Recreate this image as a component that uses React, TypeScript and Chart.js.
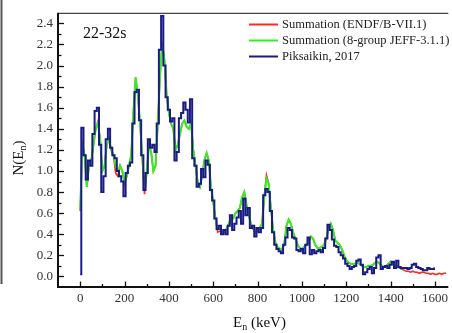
import React, { useEffect, useRef } from "react";
import { Chart, registerables } from "chart.js";

Chart.register(...registerables);

// Energy grid: first energy and spacing (keV) of the tabulated spectra
const X_START = 0;
const X_STEP = 10;

// Piksaikin, 2017 (0 .. 1600 keV)
const blueValues = [
  0.02, 1.41, 1.15, 0.92, 1.10, 1.05, 1.35, 1.57, 1.60, 1.25,
  0.80, 0.95, 1.30, 1.40, 1.22, 1.15, 1.12, 1.00, 0.95, 0.90,
  0.76, 0.98, 1.05, 1.08, 1.45, 1.75, 1.77, 1.48, 1.15, 0.82,
  0.98, 1.30, 1.22, 1.25, 1.18, 1.45, 2.15, 2.47, 2.00, 1.70,
  1.58, 1.47, 1.50, 1.10, 1.18, 1.50, 1.55, 1.65, 1.58, 1.46,
  1.68, 1.12, 1.05, 0.85, 0.88, 1.02, 0.94, 1.10, 1.06, 0.82,
  0.72, 0.55, 0.45, 0.48, 0.40, 0.44, 0.40, 0.48, 0.58, 0.44,
  0.50, 0.56, 0.62, 0.50, 0.74, 0.58, 0.65, 0.46, 0.48, 0.38,
  0.46, 0.42, 0.46, 0.77, 0.83, 0.80, 0.62, 0.42, 0.30, 0.26,
  0.24, 0.22, 0.30, 0.37, 0.46, 0.44, 0.37, 0.36, 0.25, 0.24,
  0.26, 0.22, 0.30, 0.37, 0.21, 0.25, 0.22, 0.24, 0.25, 0.23,
  0.27, 0.36, 0.49, 0.44, 0.35, 0.29, 0.28, 0.23, 0.20, 0.17,
  0.12, 0.10, 0.07, 0.09, 0.10, 0.15, 0.16, 0.11, 0.02, 0.04,
  0.07, 0.09, 0.03, 0.08, 0.18, 0.20, 0.07, 0.09, 0.10, 0.08,
  0.11, 0.14, 0.08, 0.15, 0.09, 0.08, 0.08, 0.08, 0.07, 0.08,
  0.11, 0.12, 0.09, 0.08, 0.07, 0.06, 0.06, 0.08, 0.07, 0.07,
  0.075,
];

// Summation (8-group JEFF-3.1.1) (0 .. 1450 keV)
const greenValues = [
  0.63, 1.25, 1.15, 0.85, 1.05, 1.10, 1.25, 1.40, 1.45, 1.30,
  1.00, 1.05, 1.25, 1.30, 1.20, 1.15, 1.05, 1.00, 1.05, 1.00,
  0.90, 0.95, 1.05, 1.15, 1.55, 1.89, 1.72, 1.45, 1.15, 0.82,
  1.00, 1.25, 1.18, 1.00, 1.05, 1.45, 1.90, 2.22, 2.05, 1.72,
  1.55, 1.45, 1.40, 1.20, 1.25, 1.35, 1.45, 1.48, 1.42, 1.40,
  1.45, 1.20, 1.05, 0.90, 0.85, 0.95, 1.10, 1.17, 1.10, 0.85,
  0.70, 0.55, 0.45, 0.45, 0.42, 0.42, 0.45, 0.50, 0.55, 0.55,
  0.60, 0.62, 0.65, 0.75, 0.80, 0.68, 0.58, 0.50, 0.45, 0.42,
  0.44, 0.46, 0.50, 0.75, 0.93, 0.88, 0.65, 0.45, 0.32, 0.28,
  0.26, 0.26, 0.30, 0.48, 0.54, 0.50, 0.42, 0.36, 0.30, 0.27,
  0.26, 0.28, 0.30, 0.33, 0.38, 0.36, 0.30, 0.27, 0.27, 0.28,
  0.30, 0.36, 0.45, 0.50, 0.44, 0.34, 0.32, 0.30, 0.26, 0.20,
  0.15, 0.13, 0.12, 0.12, 0.12, 0.13, 0.12, 0.10, 0.09, 0.09,
  0.10, 0.10, 0.11, 0.13, 0.14, 0.12, 0.10, 0.09, 0.10, 0.12,
  0.14, 0.12, 0.10, 0.10, 0.08, 0.07,
];

// Summation (ENDF/B-VII.1) (0 .. 1650 keV)
const redValues = [
  0.62, 1.25, 1.15, 0.85, 1.05, 1.10, 1.25, 1.40, 1.47, 1.30,
  1.00, 1.05, 1.25, 1.30, 1.20, 1.15, 0.98, 0.95, 1.05, 1.00,
  0.88, 0.95, 1.05, 1.15, 1.55, 1.88, 1.72, 1.45, 1.12, 0.78,
  0.97, 1.25, 1.18, 1.00, 1.05, 1.45, 1.90, 2.22, 2.05, 1.72,
  1.55, 1.45, 1.40, 1.20, 1.25, 1.35, 1.45, 1.48, 1.42, 1.40,
  1.45, 1.20, 1.05, 0.90, 0.85, 0.95, 1.10, 1.17, 1.10, 0.85,
  0.70, 0.55, 0.42, 0.43, 0.42, 0.42, 0.45, 0.50, 0.55, 0.55,
  0.60, 0.62, 0.65, 0.75, 0.80, 0.68, 0.58, 0.50, 0.45, 0.42,
  0.44, 0.46, 0.50, 0.75, 0.96, 0.88, 0.65, 0.45, 0.32, 0.28,
  0.26, 0.26, 0.30, 0.48, 0.54, 0.50, 0.42, 0.36, 0.30, 0.27,
  0.26, 0.28, 0.30, 0.33, 0.38, 0.36, 0.30, 0.27, 0.27, 0.28,
  0.30, 0.36, 0.45, 0.50, 0.44, 0.34, 0.32, 0.30, 0.26, 0.20,
  0.15, 0.13, 0.12, 0.12, 0.12, 0.13, 0.12, 0.10, 0.09, 0.09,
  0.10, 0.10, 0.11, 0.13, 0.14, 0.12, 0.10, 0.09, 0.10, 0.12,
  0.14, 0.12, 0.10, 0.10, 0.08, 0.07, 0.06, 0.05, 0.05, 0.04,
  0.05, 0.04, 0.04, 0.03, 0.04, 0.04, 0.03, 0.03, 0.02, 0.03,
  0.02, 0.02, 0.03, 0.02, 0.03, 0.03,
];

const xTickValues = [0, 200, 400, 600, 800, 1000, 1200, 1400, 1600];
const xMinorValues = [100, 300, 500, 700, 900, 1100, 1300, 1500];
const yTickValues = [0, 0.2, 0.4, 0.6, 0.8, 1.0, 1.2, 1.4, 1.6, 1.8, 2.0, 2.2, 2.4];
const yMinorValues = [0.1, 0.3, 0.5, 0.7, 0.9, 1.1, 1.3, 1.5, 1.7, 1.9, 2.1, 2.3];

const seriesLabels = [
  "Summation (ENDF/B-VII.1)",
  "Summation (8-group JEFF-3.1.1)",
  "Piksaikin, 2017",
];
const seriesColors = ["#ff2a1f", "#33ee22", "#1b1b86"];
const panelLabel = "22-32s";

const SERIF = '"Liberation Serif", "Times New Roman", serif';

function toPoints(vals: number[]) {
  return vals.map((y, i) => ({ x: X_START + i * X_STEP, y }));
}

const decorPlugin = {
  id: "decor",
  afterDraw(chart: any) {
    const { ctx, chartArea: a, scales } = chart;
    const xs = scales.x;
    const ys = scales.y;
    ctx.save();
    const line = (x1: number, y1: number, x2: number, y2: number) => {
      ctx.beginPath();
      ctx.moveTo(x1, y1);
      ctx.lineTo(x2, y2);
      ctx.stroke();
    };
    // cropped neighbour frame at the far left
    ctx.strokeStyle = "#555";
    ctx.lineWidth = 2;
    line(1.5, 0, 1.5, 284);
    // top frame line
    ctx.strokeStyle = "#444";
    ctx.lineWidth = 1.2;
    line(a.left, a.top + 0.5, a.right, a.top + 0.5);
    // axes
    ctx.strokeStyle = "#111";
    ctx.lineWidth = 2;
    line(a.left, a.top, a.left, a.bottom + 1);
    line(a.left - 1, a.bottom, a.right, a.bottom);
    // ticks (inward)
    ctx.lineWidth = 1.3;
    for (const v of yTickValues) {
      const p = Math.round(ys.getPixelForValue(v)) + 0.5;
      line(a.left, p, a.left + 6, p);
    }
    for (const v of yMinorValues) {
      const p = Math.round(ys.getPixelForValue(v)) + 0.5;
      line(a.left, p, a.left + 3.5, p);
    }
    for (const v of xTickValues) {
      const p = Math.round(xs.getPixelForValue(v)) + 0.5;
      line(p, a.bottom, p, a.bottom - 5.5);
    }
    for (const v of xMinorValues) {
      const p = Math.round(xs.getPixelForValue(v)) + 0.5;
      line(p, a.bottom, p, a.bottom - 3);
    }
    // panel label
    ctx.fillStyle = "#111";
    ctx.textBaseline = "middle";
    ctx.textAlign = "left";
    ctx.font = `16px ${SERIF}`;
    ctx.fillText(panelLabel, 83, 34);
    // legend
    ctx.font = `12.5px ${SERIF}`;
    seriesLabels.forEach((lab, i) => {
      const yy = 24.5 + 16 * i;
      ctx.strokeStyle = seriesColors[i];
      ctx.lineWidth = 2;
      line(249, yy, 278, yy);
      ctx.fillStyle = "#222";
      ctx.fillText(lab, 282, yy + 0.5);
    });
    // x title: E_n (keV)
    ctx.fillStyle = "#111";
    ctx.textBaseline = "alphabetic";
    ctx.font = `15px ${SERIF}`;
    let cx = 233;
    ctx.fillText("E", cx, 327);
    cx += ctx.measureText("E").width;
    ctx.font = `10px ${SERIF}`;
    ctx.fillText("n", cx, 330);
    cx += ctx.measureText("n").width;
    ctx.font = `15px ${SERIF}`;
    ctx.fillText(" (keV)", cx, 327);
    // y title: N(E_n)
    ctx.translate(18, 158);
    ctx.rotate(-Math.PI / 2);
    ctx.font = `15px ${SERIF}`;
    const w1 = ctx.measureText("N(E").width;
    const w3 = ctx.measureText(")").width;
    ctx.font = `10px ${SERIF}`;
    const w2 = ctx.measureText("n").width;
    const total = w1 + w2 + w3;
    let tx = -total / 2;
    ctx.font = `15px ${SERIF}`;
    ctx.fillText("N(E", tx, 5);
    tx += w1;
    ctx.font = `10px ${SERIF}`;
    ctx.fillText("n", tx, 8);
    tx += w2;
    ctx.font = `15px ${SERIF}`;
    ctx.fillText(")", tx, 5);
    ctx.restore();
  },
};

export default function App() {
  const ref = useRef<HTMLCanvasElement | null>(null);

  useEffect(() => {
    if (!ref.current) return;
    const chart = new Chart(ref.current, {
      type: "line",
      data: {
        datasets: [
          {
            label: seriesLabels[2],
            data: toPoints(blueValues),
            borderColor: seriesColors[2],
            borderWidth: 2,
            pointRadius: 0,
            tension: 0,
            stepped: "middle",
          },
          {
            label: seriesLabels[1],
            data: toPoints(greenValues),
            borderColor: seriesColors[1],
            borderWidth: 2,
            pointRadius: 0,
            tension: 0,
          },
          {
            label: seriesLabels[0],
            data: toPoints(redValues),
            borderColor: seriesColors[0],
            borderWidth: 1.6,
            pointRadius: 0,
            tension: 0,
          },
        ],
      },
      options: {
        responsive: false,
        animation: false,
        devicePixelRatio: 1,
        layout: { padding: { top: 8, left: 0, right: 0, bottom: 0 } },
        plugins: {
          legend: { display: false },
          tooltip: { enabled: false },
        },
        scales: {
          x: {
            type: "linear",
            min: -100,
            max: 1660,
            grid: { display: false, drawTicks: false },
            border: { display: false },
            afterBuildTicks: (s: any) => {
              s.ticks = xTickValues.map((v) => ({ value: v }));
            },
            afterFit: (s: any) => {
              s.height = 46;
            },
            ticks: {
              autoSkip: false,
              maxRotation: 0,
              padding: 4,
              color: "#333",
              font: { family: SERIF, size: 13 },
              callback: (v: any) => String(v),
            },
          },
          y: {
            type: "linear",
            min: -0.1,
            max: 2.5,
            grid: { display: false, drawTicks: false },
            border: { display: false },
            afterBuildTicks: (s: any) => {
              s.ticks = yTickValues.map((v) => ({ value: v }));
            },
            afterFit: (s: any) => {
              s.width = 58;
            },
            ticks: {
              autoSkip: false,
              padding: 5,
              color: "#333",
              font: { family: SERIF, size: 13 },
              callback: (v: any) => Number(v).toFixed(1),
            },
          },
        },
      },
      plugins: [decorPlugin],
    });
    return () => chart.destroy();
  }, []);

  return (
    <div style={{ position: "absolute", left: 0, top: 0, width: 452, height: 333, background: "#fff" }}>
      <canvas ref={ref} width={452} height={333} style={{ display: "block" }} />
    </div>
  );
}
